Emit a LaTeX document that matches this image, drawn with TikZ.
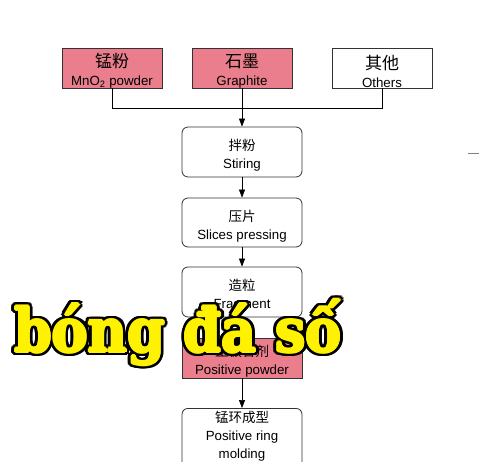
\documentclass[tikz,border=0pt]{standalone}
\usepackage{fontspec}
\usepackage{graphicx}
\setmainfont{Liberation Sans}
\newfontfamily\cjk{Noto Sans CJK SC}
\newfontfamily\wmfont{DejaVu Serif}
\usetikzlibrary{arrows.meta,calc}
\definecolor{pinkfill}{RGB}{234,126,140}
\definecolor{edge}{RGB}{50,50,50}
\tikzset{
  topbox/.style={draw=edge, line width=0.8pt, minimum width=100pt, minimum height=40pt, inner sep=0pt},
  procbox/.style={draw=edge, line width=0.8pt, rounded corners=6pt, minimum width=120pt, minimum height=50pt, inner sep=0pt},
  pinkbox/.style={draw=edge, line width=0.8pt, fill=pinkfill, minimum width=120pt, minimum height=40pt, inner sep=0pt},
  txt/.style={align=center, inner sep=0pt, font=\fontsize{13}{18}\selectfont},
  conn/.style={draw=black, line width=0.7pt},
  arr/.style={conn, -{Triangle[width=6pt,length=8pt]}},
  wmtext/.style={font=\wmfont\bfseries\fontsize{60}{60}\selectfont, anchor=base west, inner sep=0pt}
}
\newcommand{\cnbig}[1]{{\cjk\fontsize{17}{18}\selectfont #1}}
\newcommand{\cnsm}[1]{{\cjk\fontsize{13.5}{15}\selectfont #1}}
\newcommand{\ensm}[1]{{\fontsize{13.3}{14}\selectfont #1}}
\newcommand{\wm}{\scalebox{0.9}[1]{bóng đá số}}
\begin{document}
\begin{tikzpicture}[x=1pt,y=-1pt]
\useasboundingbox (0,0) rectangle (482,461);
\fill[white] (0,0) rectangle (482,461);
\clip (0,0) rectangle (482,461);
% top boxes
\node[topbox, fill=pinkfill] (mn) at (112,68) {};
\node[topbox, fill=pinkfill] (gr) at (242,68) {};
\node[topbox] (ot) at (382,68) {};
\node[txt] (mnT) at ($(mn)+(0,3)$) {\cnbig{锰粉}\\\ensm{MnO\textsubscript{2} powder}};
\node[txt] (grT) at ($(gr)+(0,3)$) {\cnbig{石墨}\\\ensm{Graphite}};
\node[txt] (otT) at ($(ot)+(0,3)$) {\cnbig{其他}\\\ensm{Others}};
% process boxes
\node[procbox] (st) at (242,152) {};
\node[procbox, minimum height=49pt] (sp) at (242,222.5) {};
\node[procbox] (fr) at (242,292) {};
\node[pinkbox] (pp) at (242,358) {};
\node[procbox, minimum height=66pt, anchor=north] (rm) at (242,408) {};
\node[txt] (stT) at ($(st)+(0,3.5)$) {\cnsm{拌粉}\\\ensm{Stiring}};
\node[txt] (spT) at ($(sp)+(0,3.5)$) {\cnsm{压片}\\\ensm{Slices pressing}};
\node[txt] (frT) at ($(fr)+(0,3.5)$) {\cnsm{造粒}\\\ensm{Fragment}};
\node[txt] (ppT) at ($(pp)+(0,3)$) {\cnsm{正极合剂}\\\ensm{Positive powder}};
\node[txt, anchor=north] (rmT) at (242,411) {\cnsm{锰环成型}\\\ensm{Positive ring}\\\ensm{molding}};
% connectors
\coordinate (j) at (242,108);
\draw[conn] (mn.south) |- (j);
\draw[conn] (ot.south) |- (j);
\draw[arr] (gr.south) -- (st.north);
\draw[arr] (st.south) -- (sp.north);
\draw[arr] (sp.south) -- (fr.north);
\draw[arr] (fr.south) -- (pp.north);
\draw[arr] (pp.south) -- (rm.north);
% small mark
\coordinate (m1) at (468,153);
\coordinate (m2) at (479,153);
\draw[gray, line width=1pt] (m1) -- (m2);
% watermark
\foreach \a [count=\i] in {0,20,...,340}{
  \node[wmtext, text=black] (wm\i) at ($(14,352)+(\a:4)$) {\wm};
}
\foreach \a [count=\i] in {0,45,...,315}{
  \node[wmtext, text=yellow] (wy\i) at ($(14,352)+(\a:1.2)$) {\wm};
}
\node[wmtext, text=yellow] (wm) at (14,352) {\wm};
\end{tikzpicture}
\end{document}
